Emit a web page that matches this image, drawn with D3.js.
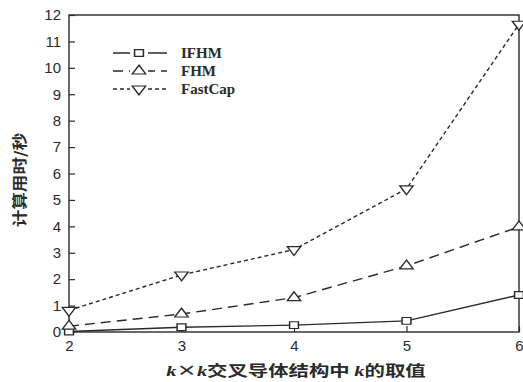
<!DOCTYPE html>
<html><head><meta charset="utf-8">
<script src="https://cdn.jsdelivr.net/npm/d3@7"></script>
<style>body{margin:0;background:#fff}</style>
</head><body>
<svg id="c" width="523" height="382"></svg>
<script>
const kValues = [2, 3, 4, 5, 6];
const ifhm = [0.02, 0.18, 0.26, 0.42, 1.4];
const fhm = [0.22, 0.68, 1.3, 2.5, 3.98];
const fastcap = [0.82, 2.16, 3.12, 5.42, 11.65];
const yTicks = [0,1,2,3,4,5,6,7,8,9,10,11,12];
const seriesNames = ["IFHM", "FHM", "FastCap"];

const svg = d3.select("#c");
const L = 69, R = 519, T = 15, B = 332;
const x = d3.scaleLinear().domain([2, 6]).range([L, R]);
const y = d3.scaleLinear().domain([0, 12]).range([B, T]);
const col = "#2a2a2a";

// frame
svg.append("rect").attr("x", L).attr("y", T).attr("width", R - L).attr("height", B - T)
  .attr("fill", "none").attr("stroke", col).attr("stroke-width", 1.4);

const yAxis = svg.append("g").attr("transform", `translate(${L},0)`)
  .call(d3.axisLeft(y).tickValues(yTicks).tickSize(-6).tickPadding(8).tickFormat(d3.format("d")));
const xAxis = svg.append("g").attr("transform", `translate(0,${B})`)
  .call(d3.axisBottom(x).tickValues(kValues).tickSize(-6).tickPadding(8).tickFormat(d3.format("d")));
[yAxis, xAxis].forEach(g => {
  g.select(".domain").remove();
  g.selectAll("line").attr("stroke", col).attr("stroke-width", 1.2);
  g.selectAll("text").attr("fill", col).style("font-family", "Liberation Sans, Arial, sans-serif").style("font-size", "15px");
});

const series = [
  {name: seriesNames[0], data: ifhm, dash: null, sym: d3.symbolSquare, size: 50, rot: 0},
  {name: seriesNames[1], data: fhm, dash: "10,6", sym: d3.symbolTriangle, size: 50, rot: 0},
  {name: seriesNames[2], data: fastcap, dash: "4,3", sym: d3.symbolTriangle, size: 50, rot: 180}
];
const line = d3.line().x((d, i) => x(kValues[i])).y(d => y(d));
series.forEach(s => {
  svg.append("path").datum(s.data).attr("d", line).attr("fill", "none")
    .attr("stroke", col).attr("stroke-width", 1.4).attr("stroke-dasharray", s.dash);
  svg.selectAll(null).data(s.data).enter().append("path")
    .attr("d", d3.symbol().type(s.sym).size(s.size))
    .attr("transform", (d, i) => `translate(${x(kValues[i])},${y(d)}) scale(1.25,0.95) rotate(${s.rot})`)
    .attr("fill", "white").attr("stroke", col).attr("stroke-width", 1.2);
});

// legend
const legY = [53, 71, 89];
series.forEach((s, i) => {
  const g = svg.append("g");
  const ln = g.append("line").attr("x1", 113).attr("x2", 167).attr("y1", legY[i]).attr("y2", legY[i])
    .attr("stroke", col).attr("stroke-width", 1.4);
  if (s.dash) ln.attr("stroke-dasharray", s.dash);
  g.append("rect").attr("x", 130).attr("y", legY[i] - 7).attr("width", 18).attr("height", 14).attr("fill", "white");
  g.append("path").attr("d", d3.symbol().type(s.sym).size(s.size))
    .attr("transform", `translate(139,${legY[i]}) scale(1.25,0.95) rotate(${s.rot})`)
    .attr("fill", "white").attr("stroke", col).attr("stroke-width", 1.2);
  g.append("text").attr("x", 181).attr("y", legY[i] + 5).text(s.name)
    .attr("fill", col).style("font-family", "Liberation Serif, Times New Roman, serif")
    .style("font-weight", "bold").style("font-size", "15px");
});

// axis titles
svg.append("text").attr("transform", "translate(25,180) rotate(-90) scale(1.1,0.9)").attr("text-anchor", "middle")
  .attr("fill", col).style("font-family", "Noto Sans CJK SC").style("font-weight", "bold").style("font-size", "16px")
  .text("计算用时/秒");
const xt = svg.append("text").attr("transform", "translate(296,376) scale(1.2,0.85)").attr("text-anchor", "middle")
  .attr("fill", col).style("font-family", "Noto Sans CJK SC").style("font-weight", "bold").style("font-size", "17px");
xt.append("tspan").style("font-family", "Liberation Serif").style("font-style", "italic").text("k");
xt.append("tspan").text("×");
xt.append("tspan").style("font-family", "Liberation Serif").style("font-style", "italic").text("k");
xt.append("tspan").text("交叉导体结构中 ");
xt.append("tspan").style("font-family", "Liberation Serif").style("font-style", "italic").text("k");
xt.append("tspan").text("的取值");
</script>
</body></html>
